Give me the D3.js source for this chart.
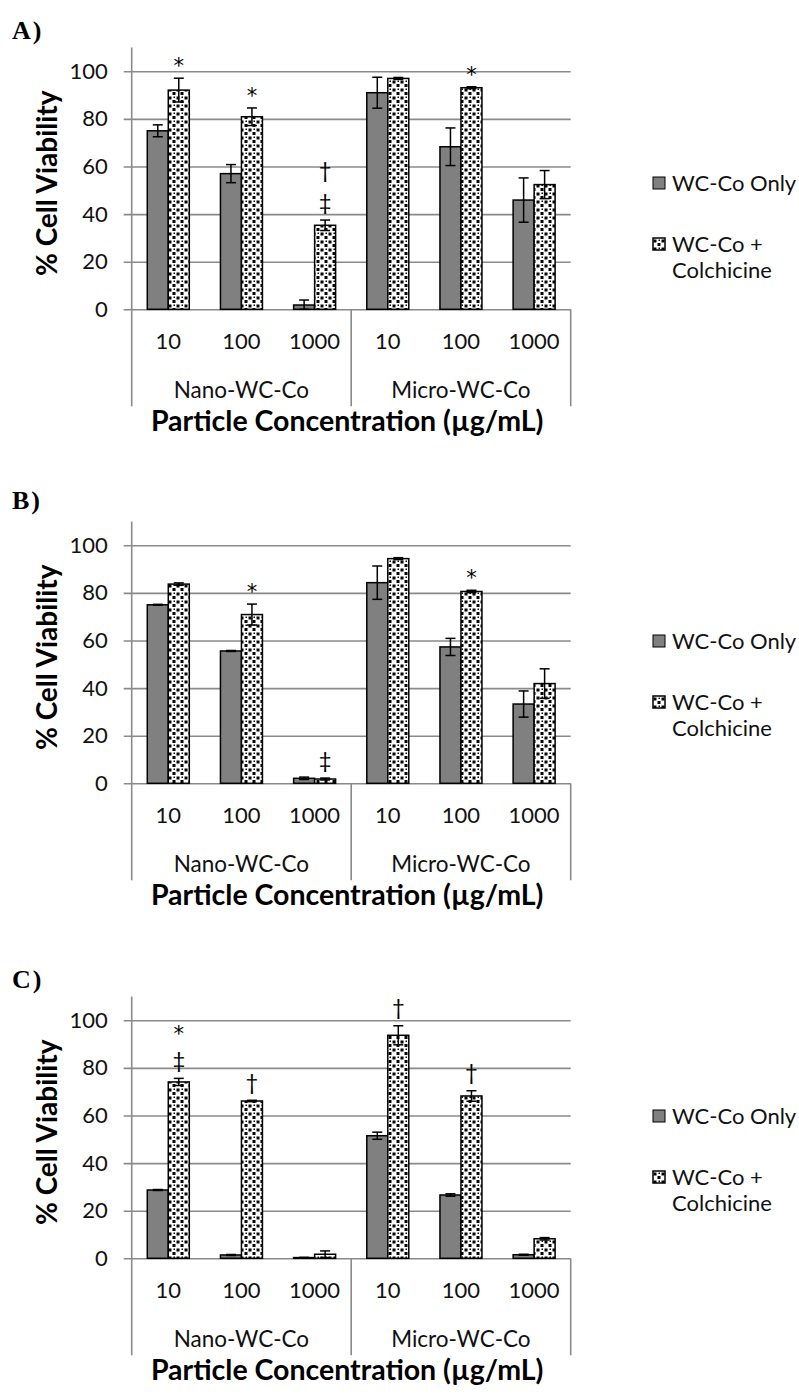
<!DOCTYPE html>
<html><head><meta charset="utf-8">
<script src="https://cdn.jsdelivr.net/npm/d3@7"></script>
<style>body{margin:0;background:#fff}svg{display:block}</style>
</head><body>
<svg id="chart" width="799" height="1395"></svg>
<script>
const categories = ["10","100","1000","10","100","1000"];
const groups = ["Nano-WC-Co","Micro-WC-Co"];
const seriesNames = ["WC-Co Only","WC-Co + Colchicine"];
const yTicks = [0,20,40,60,80,100];
const panelLabels = ["A)","B)","C)"];
const yTitle = "% Cell Viability";
const xTitle = "Particle Concentration (µg/mL)";

// Panel A
const aOnly = [75.0, 57.0, 1.8, 91.0, 68.3, 45.9];
const aOnlyErr = [2.5, 3.8, 2.1, 6.5, 7.9, 9.3];
const aColch = [92.1, 80.9, 35.3, 97.0, 93.1, 52.4];
const aColchErr = [5.0, 3.7, 2.2, 0.4, 0.4, 5.9];
const aMarks = ["*","*","‡†","","*",""];
// Panel B
const bOnly = [75.0, 55.6, 2.1, 84.3, 57.3, 33.3];
const bOnlyErr = [0.2, 0.2, 0.5, 7.0, 3.6, 5.5];
const bColch = [83.7, 70.9, 1.8, 94.4, 80.6, 41.9];
const bColchErr = [0.5, 4.4, 0.4, 0.4, 0.5, 6.2];
const bMarks = ["","*","‡","","*",""];
// Panel C
const cOnly = [28.7, 1.4, 0.3, 51.5, 26.6, 1.5];
const cOnlyErr = [0.2, 0.2, 0.1, 1.5, 0.5, 0.2];
const cColch = [74.1, 66.1, 1.7, 93.7, 68.2, 8.2];
const cColchErr = [1.5, 0.3, 1.4, 4.0, 2.2, 0.5];
const cMarks = ["‡*","†","","†","†",""];

const panels = [
  {label: panelLabels[0], only: aOnly, onlyErr: aOnlyErr, colch: aColch, colchErr: aColchErr, marks: aMarks, y0: 309.3, labelY: 39, legendY: 183},
  {label: panelLabels[1], only: bOnly, onlyErr: bOnlyErr, colch: bColch, colchErr: bColchErr, marks: bMarks, y0: 783.3, labelY: 509, legendY: 641},
  {label: panelLabels[2], only: cOnly, onlyErr: cOnlyErr, colch: cColch, colchErr: cColchErr, marks: cMarks, y0: 1258.3, labelY: 988, legendY: 1116}
];

const svg = d3.select("#chart");
const SANS = "Lato, 'Open Sans', sans-serif";
const GRID = "#8a8a8a";
const SOLID = "#808080";

// confetti-like pattern
const defs = svg.append("defs");
const pat = defs.append("pattern").attr("id","confetti").attr("patternUnits","userSpaceOnUse")
  .attr("width",8).attr("height",8);
pat.append("rect").attr("width",8).attr("height",8).attr("fill","#fff");
[[0.5,0.5,3,3],[4.5,4,3,3],[5.5,0.5,1.5,1.5]].forEach(s=>{
  pat.append("rect").attr("x",s[0]).attr("y",s[1]).attr("width",s[2]).attr("height",s[3]).attr("fill","#000");
});

const xLeft = 131.7, xRight = 570.7;
const x = d3.scaleBand().domain(d3.range(categories.length)).range([xLeft, xRight]);
const bw = x.bandwidth();
const sub = d3.scaleBand().domain([0,1]).range([bw*0.213, bw*0.787]);

panels.forEach(p => {
  const y = d3.scaleLinear().domain([0,110]).range([p.y0, p.y0 - 110*2.38]);
  const g = svg.append("g");

  // panel label
  g.append("text").attr("x",12).attr("y",p.labelY).text(p.label)
    .attr("font-family","'Liberation Serif', 'Times New Roman', serif").attr("font-weight","bold")
    .attr("font-size",26).attr("letter-spacing",2);

  // gridlines + ticks
  const yAxis = d3.axisLeft(y).tickValues(yTicks).tickSize(-(xRight - xLeft)).tickPadding(16).tickFormat(d3.format("d"));
  const ya = g.append("g").attr("transform",`translate(${xLeft},0)`).call(yAxis);
  ya.select(".domain").remove();
  ya.selectAll(".tick line").attr("stroke",GRID).attr("stroke-width",1.6).attr("x1",-8).attr("x2",xRight-xLeft);
  ya.selectAll(".tick text").attr("font-family",SANS).attr("font-size",22).attr("fill","#111").attr("x",-24);
  // y axis line
  g.append("line").attr("x1",xLeft).attr("x2",xLeft).attr("y1",y(110)).attr("y2",p.y0)
    .attr("stroke",GRID).attr("stroke-width",1.6);

  // y title
  g.append("text").attr("transform",`translate(57,${y(50)-7}) rotate(-90)`).attr("text-anchor","middle")
    .attr("font-family",SANS).attr("font-weight","bold").attr("font-size",28).attr("fill","#000").text(yTitle);

  // category axis separators
  [0,3,6].forEach(i=>{
    const xx = i===6 ? xRight : x(i);
    g.append("line").attr("x1",xx).attr("x2",xx).attr("y1",p.y0).attr("y2",p.y0+97)
      .attr("stroke",GRID).attr("stroke-width",1.6);
  });
  categories.forEach((c,i)=>{
    g.append("text").attr("x",x(i)+bw/2).attr("y",p.y0+40).attr("text-anchor","middle")
      .attr("font-family",SANS).attr("font-size",22).attr("fill","#111").text(c);
  });
  groups.forEach((gname,j)=>{
    g.append("text").attr("x",(x(j*3)+ (j===1?xRight:x(3)))/2).attr("y",p.y0+89).attr("text-anchor","middle")
      .attr("font-family",SANS).attr("font-size",22.5).attr("fill","#111").text(gname);
  });
  g.append("text").attr("x",(xLeft+xRight)/2 - 4).attr("y",p.y0+122).attr("text-anchor","middle")
    .attr("font-family",SANS).attr("font-weight","bold").attr("font-size",28.5).attr("fill","#000").text(xTitle);

  // bars
  const series = [
    {vals: p.only, errs: p.onlyErr, fill: SOLID},
    {vals: p.colch, errs: p.colchErr, fill: "url(#confetti)"}
  ];
  series.forEach((s,si)=>{
    g.append("g").selectAll("rect").data(s.vals).join("rect")
      .attr("x",(d,i)=>x(i)+sub(si)).attr("width",sub.bandwidth())
      .attr("y",d=>y(d)).attr("height",d=>p.y0 - y(d))
      .attr("fill",s.fill).attr("stroke","#000").attr("stroke-width",1.5);
  });
  // error bars
  series.forEach((s,si)=>{
    const eg = g.append("g");
    s.vals.forEach((v,i)=>{
      const cx = x(i)+sub(si)+sub.bandwidth()/2;
      const top = y(v + s.errs[i]), bot = y(Math.max(0, v - s.errs[i]));
      eg.append("line").attr("x1",cx).attr("x2",cx).attr("y1",top).attr("y2",bot).attr("stroke","#000").attr("stroke-width",1.5);
      [top,bot].forEach(yy=>eg.append("line").attr("x1",cx-5).attr("x2",cx+5).attr("y1",yy).attr("y2",yy).attr("stroke","#000").attr("stroke-width",1.5));
    });
  });
  // significance marks (over colchicine bars)
  p.marks.forEach((m,i)=>{
    if(!m) return;
    const cx = x(i)+sub(1)+sub.bandwidth()/2;
    const base = y(p.colch[i] + p.colchErr[i]);
    Array.from(m).forEach((ch,k)=>{
      const isStar = ch === "*";
      g.append("text").attr("x",cx).attr("y",base - 18 - 32*k)
        .attr("dy", isStar ? "0.62em" : "0.35em").attr("text-anchor","middle")
        .attr("font-family", isStar ? "'DejaVu Sans', sans-serif" : SANS)
        .attr("font-size", isStar ? 21 : 22).attr("fill","#000").text(ch);
    });
  });

  // legend
  const lg = g.append("g").attr("transform",`translate(653,${p.legendY})`);
  lg.append("rect").attr("x",0).attr("y",-6).attr("width",12).attr("height",12).attr("fill",SOLID).attr("stroke","#000").attr("stroke-width",1);
  lg.append("text").attr("x",19).attr("y",0).attr("dy","0.35em").attr("font-family",SANS).attr("font-size",22).attr("fill","#111").text(seriesNames[0]);
  lg.append("rect").attr("x",0).attr("y",55).attr("width",12).attr("height",12).attr("fill","url(#confetti)").attr("stroke","#000").attr("stroke-width",1.5);
  const t2 = lg.append("text").attr("x",19).attr("y",61).attr("dy","0.35em").attr("font-family",SANS).attr("font-size",22).attr("fill","#111");
  t2.append("tspan").attr("x",19).text("WC-Co +");
  t2.append("tspan").attr("x",19).attr("dy","1.2em").text("Colchicine");
});
</script>
</body></html>
